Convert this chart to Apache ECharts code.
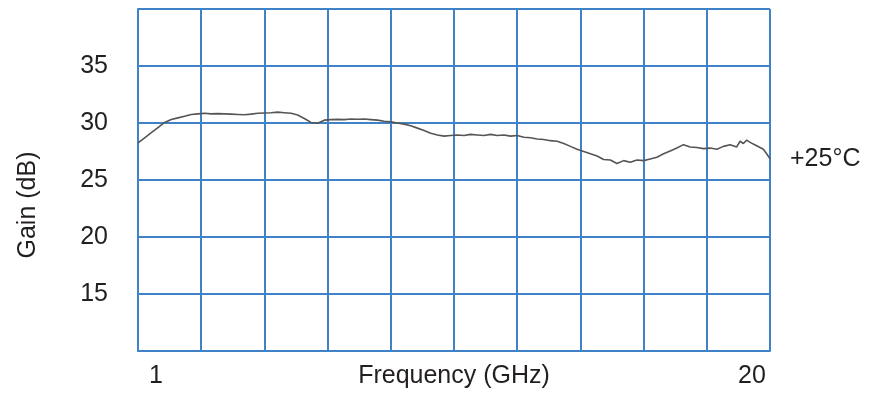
<!DOCTYPE html>
<html>
<head>
<meta charset="utf-8">
<script src="https://cdn.jsdelivr.net/npm/echarts@6/dist/echarts.min.js"></script>
<style>
html,body{margin:0;padding:0;background:#fff;}
#chart{width:874px;height:394px;}
</style>
</head>
<body>
<div id="chart"></div>
<script>
// Frequency (GHz)
const freqGHz = [1.0,1.2,1.4,1.6,1.8,2.0,2.2,2.4,2.6,2.8,3.0,3.2,3.4,3.6,3.8,4.0,4.2,4.4,4.6,4.8,5.0,5.2,5.4,5.6,5.8,6.0,6.2,6.4,6.6,6.8,7.0,7.2,7.4,7.6,7.8,8.0,8.2,8.4,8.6,8.8,9.0,9.2,9.4,9.6,9.8,10.0,10.2,10.4,10.6,10.8,11.0,11.2,11.4,11.6,11.8,12.0,12.2,12.4,12.6,12.8,13.0,13.2,13.4,13.6,13.8,14.0,14.2,14.4,14.6,14.8,15.0,15.2,15.4,15.6,15.8,16.0,16.2,16.4,16.6,16.8,17.0,17.2,17.4,17.6,17.8,18.0,18.2,18.4,18.6,18.8,19.0,19.1,19.2,19.3,19.4,19.6,19.8,19.9,20.0];
// Gain (dB) at +25°C
const gain25C = [28.25,28.7,29.15,29.6,30.05,30.3,30.45,30.6,30.75,30.8,30.85,30.8,30.82,30.8,30.78,30.75,30.72,30.78,30.85,30.88,30.9,30.95,30.9,30.85,30.7,30.4,30.05,29.98,30.25,30.3,30.32,30.3,30.35,30.33,30.35,30.3,30.25,30.15,30.1,30.0,29.9,29.75,29.55,29.35,29.1,28.95,28.85,28.9,28.95,28.9,29.0,28.95,28.9,29.0,28.9,28.95,28.85,28.9,28.75,28.7,28.6,28.55,28.45,28.4,28.2,27.95,27.7,27.5,27.3,27.1,26.8,26.75,26.45,26.7,26.55,26.75,26.7,26.85,27.0,27.3,27.55,27.8,28.1,27.9,27.85,27.75,27.8,27.7,27.95,28.1,27.9,28.4,28.2,28.5,28.3,28.0,27.7,27.3,26.85];
const seriesName = '+25°C';
const xTickLabels = {0:'1', 10:'20'};
const yTickLabels = [15,20,25,30,35];
const xTitle = 'Frequency (GHz)';
const yTitle = 'Gain (dB)';

const gridBlue = '#3f82c8';
const font = 'Liberation Sans, Arial, sans-serif';
const txt = '#231f20';

const chart = echarts.init(document.getElementById('chart'), null, {renderer:'canvas'});
chart.setOption({
  animation:false,
  backgroundColor:'#fff',
  grid:{left:138,right:104,top:9,bottom:43,containLabel:false,outerBoundsMode:'none'},
  xAxis:[{
    type:'value',min:1,max:20,show:false
  },{
    type:'value',min:0,max:10,interval:1,position:'bottom',
    axisLine:{show:true,lineStyle:{color:gridBlue,width:2}},
    axisTick:{show:false},
    splitLine:{show:true,lineStyle:{color:gridBlue,width:2}},
    axisLabel:{
      margin:13,fontSize:25,color:txt,fontFamily:font,
      formatter:function(v){ if(v===0) return '{a|'+xTickLabels[0]+'}'; if(v===10) return '{b|'+xTickLabels[10]+'}'; return ''; },
      rich:{
        a:{fontSize:25,color:txt,fontFamily:font,padding:[0,0,0,36]},
        b:{fontSize:25,color:txt,fontFamily:font,padding:[0,36,0,0]}
      }
    },
    name:xTitle,nameLocation:'middle',nameGap:13,nameMoveOverlap:false,
    nameTextStyle:{fontSize:25,color:txt,fontFamily:font}
  }],
  yAxis:{
    type:'value',min:10,max:40,interval:5,
    axisLine:{show:true,lineStyle:{color:gridBlue,width:2}},
    axisTick:{show:false},
    splitLine:{show:true,lineStyle:{color:gridBlue,width:2}},
    axisLabel:{
      margin:30,fontSize:25,color:txt,fontFamily:font,
      formatter:function(v){ return yTickLabels.indexOf(v)>=0 ? String(v) : ''; }
    },
    name:yTitle,nameLocation:'middle',nameGap:97,nameMoveOverlap:false,
    nameTextStyle:{fontSize:25,color:txt,fontFamily:font,padding:[0,50,0,0]}
  },
  series:[{
    type:'line',name:seriesName,xAxisIndex:0,
    data:freqGHz.map((f,i)=>[f,gain25C[i]]),
    showSymbol:false,symbol:'none',
    lineStyle:{color:'#555',width:1.6},
    endLabel:{show:true,formatter:seriesName,distance:20,fontSize:25,color:txt,fontFamily:font},
    z:5
  }]
});
</script>
</body>
</html>
